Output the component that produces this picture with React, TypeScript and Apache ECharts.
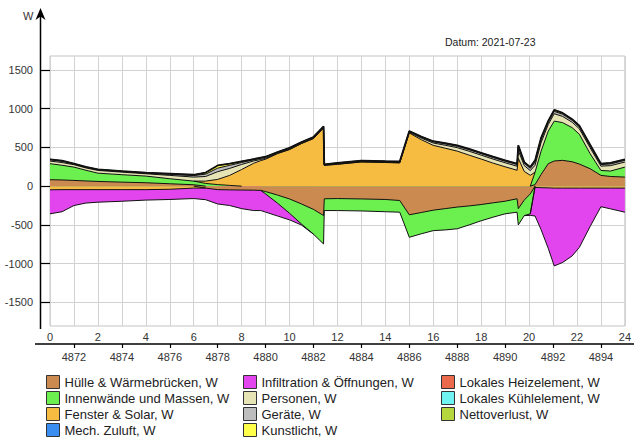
import React, { useEffect, useRef } from 'react';
import * as echarts from 'echarts';

// Hour of the day (x positions of the samples)
const hours = [0, 0.5, 1, 1.5, 2, 3, 4, 5, 6, 6.5, 7, 7.5, 8, 8.5, 8.8, 9, 9.5, 10, 10.5, 11, 11.42, 11.45, 12, 13, 14, 14.6, 15, 15.5, 16, 16.5, 17, 17.5, 18, 18.5, 19, 19.5, 19.55, 19.8, 20.05, 20.25, 20.5, 20.8, 21.05, 21.4, 21.8, 22.1, 22.55, 23, 23.4, 24];

// Heat flows, W
const huelle = [83, 80, 74, 67, 61, 52, 44, 31, 18, -25, -45, -48, -50, -52, -55, -70, -115, -165, -230, -300, -379, -163, -160, -165, -172, -185, -370, -340, -310, -290, -270, -255, -237, -215, -194, -163, -290, -180, -100, 20, 150, 290, 325, 333, 315, 285, 225, 139, 125, 117];
const innenwaende = [207, 190, 172, 138, 107, 96, 86, 65, 47, 35, 20, 10, 0, 0, 0, -30, -105, -185, -260, -320, -367, -152, -155, -155, -158, -151, -290, -275, -264, -275, -280, -245, -210, -185, -163, -173, -210, -200, -257, 160, 300, 420, 515, 487, 440, 385, 194, 64, 70, 129];
const fenster = [-47, -45, -45, -45, -45, -45, -45, -40, -25, 30, 67, 129, 215, 295, 330, 348, 420, 472, 550, 614, 751, 268, 282, 312, 305, 300, 686, 600, 527, 490, 452, 400, 350, 297, 250, 205, 360, 190, 140, -15, -20, -22, -25, -25, -25, -25, -25, -25, -25, -25];
const mechZuluft = [0, 0, 0, 0, 0, 0, 0, 0, 0, 0, 0, 0, 0, 0, 0, 0, 0, 0, 0, 0, 0, 0, 0, 0, 0, 0, 0, 0, 0, 0, 0, 0, 0, 0, 0, 0, 0, 0, 0, 0, 0, 0, 0, 0, 0, 0, 0, 0, 0, 0];
const infiltration = [-310, -285, -205, -173, -162, -150, -135, -132, -135, -150, -185, -202, -240, -263, -260, -235, -165, -85, -12, 0, 0, 0, 0, 0, 0, 0, 0, 0, 0, 0, 0, 0, 0, 0, 0, 0, 0, 0, -20, -370, -540, -780, -1005, -960, -875, -765, -495, -240, -268, -311];
const personen = [34, 35, 31, 30, 35, 33, 30, 43, 52, 60, 100, 90, 65, 30, 15, 10, 5, 3, 2, 2, 2, 2, 2, 2, 2, 3, 10, 20, 30, 38, 45, 50, 50, 52, 52, 52, 100, 75, 60, 90, 110, 85, 95, 80, 70, 70, 75, 55, 70, 65];
const geraete = [18, 18, 10, 10, 10, 10, 10, 15, 20, 30, 45, 40, 25, 15, 15, 14, 10, 12, 12, 12, 12, 7, 10, 10, 9, 9, 10, 12, 15, 17, 18, 20, 20, 20, 20, 22, 45, 30, 30, 40, 40, 30, 30, 28, 25, 25, 25, 20, 22, 22];
const kunstlicht = [5, 5, 3, 3, 3, 3, 3, 6, 10, 20, 35, 21, 15, 10, 8, 8, 6, 8, 6, 7, 8, 4, 6, 6, 6, 6, 6, 8, 8, 10, 10, 10, 10, 11, 11, 11, 22, 15, 16, 23, 22, 17, 20, 17, 15, 15, 16, 12, 13, 12];
const heizelement = [0, 0, 0, 0, 0, 0, 0, 0, 0, 0, 0, 0, 0, 0, 0, 0, 0, 0, 0, 0, 0, 0, 0, 0, 0, 0, 0, 0, 0, 0, 0, 0, 0, 0, 0, 0, 0, 0, 0, 0, 0, 0, 0, 0, 0, 0, 0, 0, 0, 0];
const kuehlelement = [0, 0, 0, 0, 0, 0, 0, 0, 0, 0, 0, 0, 0, 0, 0, 0, 0, 0, 0, 0, 0, 0, 0, 0, 0, 0, 0, 0, 0, 0, 0, 0, 0, 0, 0, 0, 0, 0, 0, 0, 0, 0, 0, 0, 0, 0, 0, 0, 0, 0];
const nettoverlust = [0, 0, 0, 0, 0, 0, 0, 0, 0, 0, 0, 0, 0, 0, 0, 0, 0, 0, 0, 0, 0, 0, 0, 0, 0, 0, 0, 0, 0, 0, 0, 0, 0, 0, 0, 0, 0, 0, 0, 0, 0, 0, 0, 0, 0, 0, 0, 0, 0, 0];

// Axis ticks / labels
const yTicks = [-1500, -1000, -500, 0, 500, 1000, 1500];
const hourLabels = [0, 2, 4, 6, 8, 10, 12, 14, 16, 18, 20, 22, 24];
const hourOfYearLabels = [4872, 4874, 4876, 4878, 4880, 4882, 4884, 4886, 4888, 4890, 4892, 4894];
const dateText = 'Datum: 2021-07-23';
const unitText = 'W';

const SERIES = [
  { name: 'Hülle & Wärmebrücken, W', data: huelle, color: '#CB8A4F' },
  { name: 'Innenwände und Massen, W', data: innenwaende, color: '#6BF04F' },
  { name: 'Fenster & Solar, W', data: fenster, color: '#F6BC42' },
  { name: 'Mech. Zuluft, W', data: mechZuluft, color: '#3A8EF0' },
  { name: 'Infiltration & Öffnungen, W', data: infiltration, color: '#E245EE' },
  { name: 'Personen, W', data: personen, color: '#E6E3B5' },
  { name: 'Geräte, W', data: geraete, color: '#BDBDBD' },
  { name: 'Kunstlicht, W', data: kunstlicht, color: '#FFFF4A' },
  { name: 'Lokales Heizelement, W', data: heizelement, color: '#EC6A4C' },
  { name: 'Lokales Kühlelement, W', data: kuehlelement, color: '#6FF2F2' },
  { name: 'Nettoverlust, W', data: nettoverlust, color: '#B6D63E' },
];

const FONT = '"Liberation Sans", Arial, sans-serif';

function buildSeries() {
  const n = hours.length;
  let posAcc = new Array(n).fill(0);
  let negAcc = new Array(n).fill(0);
  const parts: any[] = [];
  SERIES.forEach((d) => {
    const prevPos = posAcc.slice();
    const prevNeg = negAcc.slice();
    posAcc = posAcc.map((a, i) => a + Math.max(d.data[i], 0));
    negAcc = negAcc.map((a, i) => a + Math.min(d.data[i], 0));
    parts.push({ d, cum: posAcc.slice(), prev: prevPos, positive: true });
    parts.push({ d, cum: negAcc.slice(), prev: prevNeg, positive: false });
  });
  const out: any[] = [];
  const topIndex = parts.length - 2; // positive part of the last series = outer envelope
  for (let p = parts.length - 1; p >= 0; p--) {
    const { d, cum, prev } = parts[p];
    const isTop = p === topIndex;
    const thick = (k: number) => k >= 0 && k < n && Math.abs(cum[k] - prev[k]) > 0.01;
    const data = hours.map((h, k) => [h, isTop || thick(k - 1) || thick(k) || thick(k + 1) ? cum[k] : null]);
    out.push({
      type: 'line',
      name: d.name,
      data,
      xAxisIndex: 0,
      yAxisIndex: 0,
      showSymbol: false,
      symbol: 'none',
      silent: true,
      connectNulls: false,
      z: isTop ? 3 : 2,
      lineStyle: { color: '#111', width: isTop ? 1.8 : 1 },
      areaStyle: isTop ? undefined : { color: d.color, opacity: 1 },
      itemStyle: { color: d.color },
    });
  }
  return out;
}

const LEGEND_COLS = [46, 243, 441];
const LEGEND_ROWS = [375, 391, 407, 423];

function buildLegends() {
  return SERIES.map((s, i) => ({
    left: LEGEND_COLS[Math.floor(i / 4)],
    top: LEGEND_ROWS[i % 4],
    orient: 'horizontal',
    itemWidth: 13,
    itemHeight: 13,
    itemGap: 0,
    icon: 'rect',
    selectedMode: false,
    padding: 0,
    textStyle: { fontSize: 13, color: '#222', fontFamily: FONT },
    data: [{ name: s.name, icon: 'rect', itemStyle: { color: s.color, borderColor: '#333', borderWidth: 1 } }],
  }));
}

export default function App() {
  const ref = useRef<HTMLDivElement>(null);
  useEffect(() => {
    document.body.style.margin = '0';
    const chart = echarts.init(ref.current!, undefined, { renderer: 'svg' });
    const labelStyle = { fontSize: 11, color: '#333', fontFamily: FONT };
    chart.setOption({
      animation: false,
      backgroundColor: '#fff',
      textStyle: { fontFamily: FONT },
      title: {
        text: dateText,
        left: 445,
        top: 36,
        padding: 0,
        textStyle: { fontSize: 10.5, fontWeight: 'normal', color: '#222', fontFamily: FONT },
      },
      grid: {
        left: 50,
        right: 9,
        top: 56,
        bottom: 112,
        show: true,
        borderColor: '#c4c4c4',
        borderWidth: 1,
        backgroundColor: '#fff',
      },
      legend: buildLegends(),
      xAxis: [
        {
          type: 'value',
          gridIndex: 0,
          position: 'bottom',
          min: 0,
          max: 24,
          interval: 1,
          axisLine: { show: false },
          axisTick: { show: false },
          axisLabel: {
            ...labelStyle,
            margin: 5,
            customValues: hourLabels,
            formatter: (v: number) => (hourLabels.includes(v) ? String(v) : ''),
          },
          splitLine: { show: true, lineStyle: { color: '#d2d2d2', width: 1 } },
        },
        {
          type: 'value',
          gridIndex: 0,
          position: 'bottom',
          offset: 18,
          min: 4871,
          max: 4895,
          splitNumber: 12,
          axisLine: { show: false },
          axisTick: { show: true, length: 4, customValues: hourOfYearLabels, lineStyle: { color: '#000', width: 1.2 } },
          axisLabel: {
            ...labelStyle,
            margin: 7,
            customValues: hourOfYearLabels,
            formatter: (v: number) => (hourOfYearLabels.includes(v) ? String(v) : ''),
          },
          splitLine: { show: false },
        },
      ],
      yAxis: [
        {
          type: 'value',
          min: -1805,
          max: 1680,
          splitNumber: 7,
          offset: 5,
          axisLine: { show: false },
          axisTick: { show: true, length: 9, customValues: yTicks, lineStyle: { color: '#000', width: 1.2 } },
          axisLabel: {
            ...labelStyle,
            margin: 12,
            customValues: yTicks,
            formatter: (v: number) => (yTicks.includes(v) ? String(v) : ''),
          },
          splitLine: { show: true, lineStyle: { color: '#d2d2d2', width: 1 } },
        },
      ],
      graphic: [
        { type: 'line', shape: { x1: 40.5, y1: 329, x2: 40.5, y2: 15 }, style: { stroke: '#000', lineWidth: 1.5 }, silent: true },
        { type: 'polygon', shape: { points: [[40.5, 8], [45.5, 20], [40.5, 16.5], [35.5, 20]] }, style: { fill: '#000' }, silent: true },
        { type: 'line', shape: { x1: 35, y1: 344, x2: 634, y2: 344 }, style: { stroke: '#000', lineWidth: 1.3 }, silent: true },
        { type: 'text', x: 23, y: 10, style: { text: unitText, fontSize: 11, fill: '#333', fontFamily: FONT }, silent: true },
      ],
      series: buildSeries(),
    });
    return () => chart.dispose();
  }, []);
  return <div ref={ref} style={{ position: 'absolute', left: 0, top: 0, width: 634, height: 438 }} />;
}
